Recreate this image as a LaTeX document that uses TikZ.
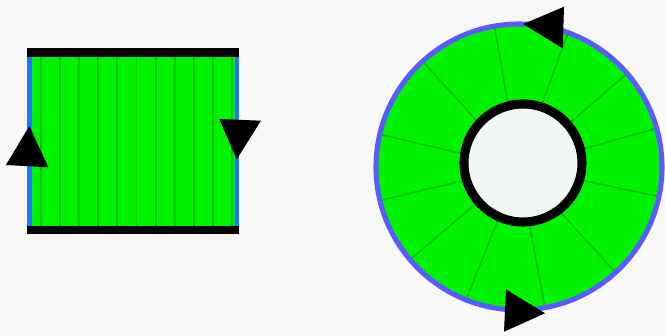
\documentclass[tikz,border=0pt]{standalone}
\usepackage{xcolor}
\usepackage{tikz}
\usetikzlibrary{calc}

\definecolor{bgcol}{HTML}{F8F8F8}
\definecolor{padgreen}{HTML}{00F400}
\definecolor{ribgreen}{HTML}{00C200}
\definecolor{sideblue}{HTML}{1E78FF}
\definecolor{rimblue}{HTML}{5A5AFF}
\definecolor{corefill}{HTML}{F1F8F3}

\begin{document}
\begin{tikzpicture}[
        x=0.75pt, y=-0.75pt,
        stripe/.style={draw=ribgreen, line width=1.3pt},
        spoke/.style={draw=ribgreen, line width=1.3pt},
        barline/.style={draw=black, line width=6.4pt},
        sideline/.style={draw=sideblue, line width=3.4pt},
        rim/.style={draw=rimblue, line width=3.8pt},
        core/.style={draw=black, line width=6.8pt, fill=corefill},
        pointer/.style={fill=black}
    ]
        \useasboundingbox (0,0) rectangle (665,336);
        \fill[bgcol] (0,0) rectangle (665,336);

        % Belt
        \coordinate (nw) at (29.6,52.5);
        \coordinate (se) at (237,230);
        \fill[padgreen] (nw) rectangle (se);
        \foreach \i in {0,...,10}
            \draw[stripe] (40.7+19.16*\i,57) -- (40.7+19.16*\i,226);
        \draw[sideline] (nw) -- (nw |- se);
        \draw[sideline] (se) -- (se |- nw);
        \draw[barline] ($(nw)+(-2.6,0)$) -- ($(se |- nw)+(2.3,0)$);
        \draw[barline] ($(nw |- se)+(-2.6,0)$) -- ($(se)+(2.3,0)$);
        \fill[pointer] (29.3,126) -- (6,165) -- (48.3,167.3) -- cycle;
        \fill[pointer] (219.3,119) -- (261,120.7) -- (236.7,159.3) -- cycle;

        % Wheel
        \coordinate (hub) at (519,167);
        \coordinate (axle) at (523,163);
        \fill[padgreen] (hub) circle[radius=143];
        \foreach \a in {99.9,69.9,40.9,15.7,-11.9,-47.5,-79.6,-111.7,-139.6,-166.4,-193.2,-227.6}
            \draw[spoke] (hub) -- ++({-\a}:143);
        \draw[rim] (hub) circle[radius=143];
        \draw[core] (axle) circle[radius=59];
        \fill[pointer] (523.3,24) -- (564,6.7) -- (562.7,48.3) -- cycle;
        \fill[pointer] (545,313.3) -- (506,289.3) -- (504,331.7) -- cycle;
    \end{tikzpicture}
\end{document}
